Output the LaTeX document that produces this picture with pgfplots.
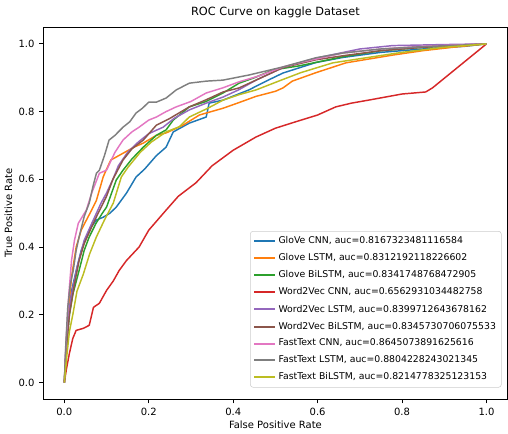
\documentclass[border=0pt]{standalone}
\usepackage{pgfplots}
\pgfplotsset{compat=1.18}
\usepackage{fontspec}
\setmainfont{DejaVu Sans}
\definecolor{c0}{HTML}{1F77B4}
\definecolor{c1}{HTML}{FF7F0E}
\definecolor{c2}{HTML}{2CA02C}
\definecolor{c3}{HTML}{D62728}
\definecolor{c4}{HTML}{9467BD}
\definecolor{c5}{HTML}{8C564B}
\definecolor{c6}{HTML}{E377C2}
\definecolor{c7}{HTML}{7F7F7F}
\definecolor{c8}{HTML}{BCBD22}
\begin{document}
\begin{tikzpicture}
\begin{axis}[
  scale only axis,
  width=348.75pt, height=279.75pt,
  xmin=-0.05, xmax=1.05, ymin=-0.05, ymax=1.05,
  xtick={0,0.2,0.4,0.6,0.8,1.0},
  ytick={0,0.2,0.4,0.6,0.8,1.0},
  xticklabels={0.0,0.2,0.4,0.6,0.8,1.0},
  yticklabels={0.0,0.2,0.4,0.6,0.8,1.0},
  xtick pos=bottom, ytick pos=left,
  tick align=outside,
  major tick length=3pt,
  tick style={black, line width=0.6pt},
  axis line style={line width=0.6pt},
  /pgf/number format/assume math mode=true,
  tick label style={font=\fontsize{7.5}{9}\selectfont},
  title={ROC Curve on kaggle Dataset},
  title style={font=\fontsize{8.5}{10}\selectfont, yshift=-3pt},
  xlabel={False Positive Rate},
  ylabel={True Positive Rate},
  label style={font=\fontsize{7.5}{9}\selectfont},
  xlabel style={yshift=3pt},
  ylabel style={yshift=-2pt},
  every axis plot/.append style={line width=1.1pt, line join=round},
  legend cell align=left,
  legend style={at={(0.987,0.032)}, anchor=south east,
    font=\fontsize{7}{8.4}\selectfont, draw=black!20, rounded corners=2pt,
    fill=white, row sep=2pt, inner sep=2pt},
  legend image code/.code={\draw[#1, line width=1.5pt] (0cm,0cm) -- (0.55cm,0cm);},
]
\addplot[c0] coordinates {(0,0) (0.004,0.1) (0.01,0.2) (0.017,0.27) (0.028,0.33) (0.04,0.39) (0.052,0.43) (0.064,0.46) (0.076,0.48) (0.092,0.488) (0.108,0.50) (0.123,0.518) (0.147,0.559) (0.17,0.607) (0.19,0.63) (0.218,0.67) (0.241,0.695) (0.258,0.74) (0.296,0.766) (0.336,0.784) (0.343,0.825) (0.376,0.834) (0.437,0.864) (0.478,0.89) (0.518,0.914) (0.596,0.945) (0.66,0.96) (0.75,0.975) (0.85,0.985) (0.95,0.993) (1,1)};
\addlegendentry{GloVe CNN, auc=0.8167323481116584}
\addplot[c1] coordinates {(0,0) (0.004,0.1) (0.01,0.22) (0.018,0.32) (0.028,0.40) (0.04,0.45) (0.052,0.479) (0.065,0.51) (0.076,0.538) (0.092,0.607) (0.1,0.63) (0.11,0.657) (0.139,0.677) (0.165,0.695) (0.187,0.707) (0.218,0.73) (0.241,0.737) (0.281,0.76) (0.32,0.79) (0.376,0.81) (0.41,0.825) (0.454,0.845) (0.5,0.86) (0.518,0.87) (0.54,0.89) (0.596,0.915) (0.667,0.944) (0.72,0.955) (0.778,0.967) (0.85,0.98) (0.92,0.99) (1,1)};
\addlegendentry{Glove LSTM, auc=0.8312192118226602}
\addplot[c2] coordinates {(0,0) (0.005,0.1) (0.012,0.2) (0.02,0.26) (0.035,0.331) (0.047,0.39) (0.059,0.43) (0.075,0.47) (0.09,0.50) (0.1,0.518) (0.123,0.598) (0.139,0.627) (0.16,0.66) (0.187,0.695) (0.218,0.73) (0.241,0.746) (0.258,0.775) (0.296,0.814) (0.336,0.83) (0.376,0.855) (0.414,0.884) (0.45,0.9) (0.494,0.923) (0.556,0.935) (0.66,0.962) (0.75,0.98) (0.85,0.99) (1,1)};
\addlegendentry{Glove BiLSTM, auc=0.8341748768472905}
\addplot[c3] coordinates {(0,0) (0.005,0.04) (0.012,0.086) (0.02,0.13) (0.028,0.154) (0.045,0.16) (0.059,0.169) (0.069,0.222) (0.083,0.234) (0.1,0.272) (0.116,0.30) (0.13,0.331) (0.147,0.36) (0.177,0.40) (0.2,0.45) (0.241,0.509) (0.27,0.55) (0.312,0.59) (0.35,0.64) (0.40,0.686) (0.454,0.725) (0.5,0.751) (0.548,0.77) (0.6,0.79) (0.643,0.814) (0.68,0.825) (0.721,0.834) (0.8,0.852) (0.856,0.858) (0.872,0.87) (1,1)};
\addlegendentry{Word2Vec CNN, auc=0.6562931034482758}
\addplot[c4] coordinates {(0,0) (0.004,0.1) (0.01,0.2) (0.017,0.26) (0.03,0.34) (0.047,0.42) (0.065,0.47) (0.087,0.53) (0.1,0.56) (0.115,0.60) (0.128,0.64) (0.15,0.68) (0.175,0.71) (0.2,0.735) (0.234,0.754) (0.26,0.78) (0.296,0.805) (0.336,0.825) (0.376,0.843) (0.414,0.865) (0.454,0.893) (0.518,0.93) (0.596,0.958) (0.7,0.985) (0.778,0.995) (0.9,0.998) (1,1)};
\addlegendentry{Word2Vec LSTM, auc=0.8399712643678162}
\addplot[c5] coordinates {(0,0) (0.005,0.1) (0.012,0.2) (0.024,0.29) (0.035,0.36) (0.047,0.41) (0.065,0.46) (0.08,0.50) (0.1,0.55) (0.115,0.60) (0.139,0.657) (0.16,0.69) (0.187,0.716) (0.218,0.76) (0.25,0.78) (0.296,0.814) (0.336,0.835) (0.376,0.858) (0.414,0.87) (0.454,0.893) (0.518,0.93) (0.596,0.953) (0.66,0.965) (0.75,0.98) (0.85,0.99) (1,1)};
\addlegendentry{Word2Vec BiLSTM, auc=0.8345730706075533}
\addplot[c6] coordinates {(0,0) (0.004,0.12) (0.01,0.25) (0.017,0.36) (0.024,0.42) (0.033,0.47) (0.052,0.509) (0.065,0.56) (0.083,0.618) (0.1,0.627) (0.12,0.68) (0.139,0.716) (0.16,0.74) (0.177,0.754) (0.2,0.775) (0.218,0.784) (0.241,0.80) (0.265,0.814) (0.3,0.83) (0.336,0.855) (0.375,0.87) (0.414,0.888) (0.46,0.905) (0.518,0.932) (0.556,0.944) (0.66,0.973) (0.75,0.985) (0.85,0.993) (1,1)};
\addlegendentry{FastText CNN, auc=0.8645073891625616}
\addplot[c7] coordinates {(0,0) (0.003,0.10) (0.008,0.22) (0.014,0.29) (0.021,0.33) (0.028,0.39) (0.035,0.43) (0.047,0.49) (0.059,0.53) (0.068,0.58) (0.076,0.618) (0.083,0.627) (0.095,0.67) (0.106,0.716) (0.12,0.73) (0.139,0.754) (0.155,0.77) (0.17,0.796) (0.185,0.81) (0.2,0.828) (0.218,0.828) (0.241,0.840) (0.265,0.864) (0.296,0.884) (0.336,0.89) (0.376,0.893) (0.437,0.908) (0.518,0.932) (0.596,0.959) (0.66,0.973) (0.75,0.985) (0.85,0.992) (0.95,0.997) (1,1)};
\addlegendentry{FastText LSTM, auc=0.8804228243021345}
\addplot[c8] coordinates {(0,0) (0.006,0.08) (0.012,0.15) (0.02,0.2) (0.03,0.27) (0.045,0.32) (0.06,0.38) (0.076,0.43) (0.095,0.48) (0.116,0.53) (0.135,0.607) (0.151,0.636) (0.18,0.68) (0.206,0.71) (0.241,0.74) (0.272,0.755) (0.296,0.784) (0.34,0.81) (0.376,0.834) (0.414,0.85) (0.454,0.864) (0.518,0.895) (0.56,0.915) (0.636,0.944) (0.72,0.96) (0.8,0.975) (0.9,0.99) (1,1)};
\addlegendentry{FastText BiLSTM, auc=0.8214778325123153}
\end{axis}
\path (current axis.north) ++(0,20.25pt);
\end{tikzpicture}
\end{document}
